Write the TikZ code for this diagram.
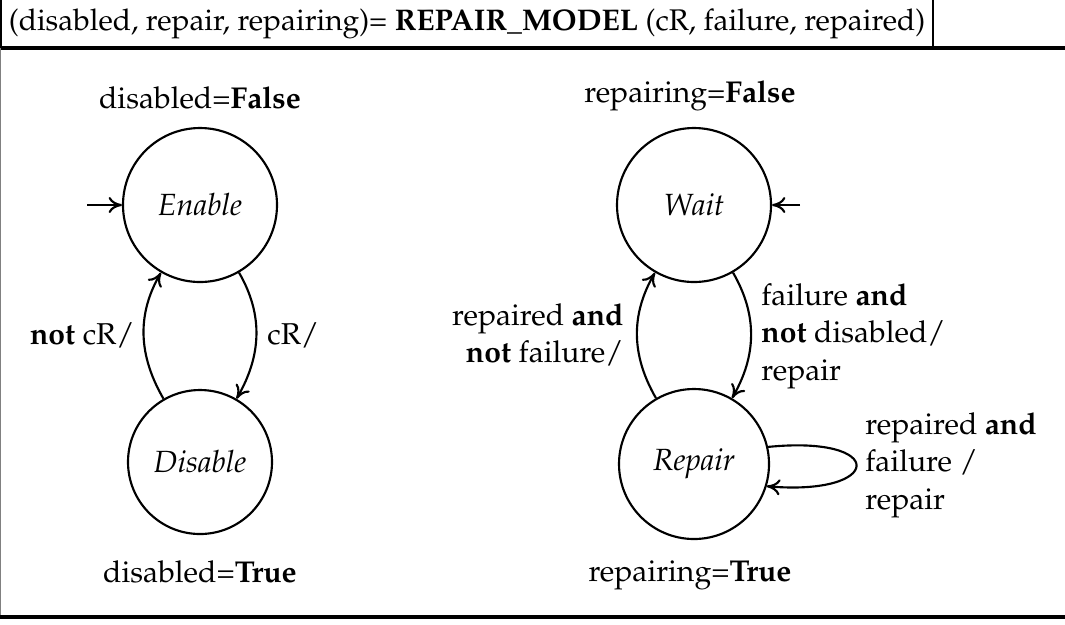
\documentclass[tikz,border=0pt]{standalone}
\usepackage[T1]{fontenc}
\renewcommand{\rmdefault}{ppl}
\usepackage{tikz}
\usetikzlibrary{arrows.meta, positioning}

\begin{document}
\begin{tikzpicture}[x=0.375pt, y=-0.375pt, >={To[length=5pt, width=6pt]},
  every node/.style={font=\fontsize{11.3}{14}\selectfont},
  state/.style={draw, circle, thick, inner sep=0pt, font=\fontsize{11.5}{14}\selectfont\itshape},
  guard/.style={align=left},
  trans/.style={->, thick}]
  \useasboundingbox (0,0) rectangle (1065,624);
  % header and frame
  \node[draw, thick, anchor=north west, minimum width=349.5pt, minimum height=19pt, inner sep=0pt] (title) at (0,-3)
    {\fontsize{11.2}{14}\selectfont(disabled, repair, repairing)= \textbf{REPAIR\_MODEL} (cR, failure, repaired)};
  \draw[very thick] (0,48) -- (1065,48);
  \draw[gray] (0.8,48) -- (0.8,617);
  \draw[very thick] (0,617) -- (1065,617);
  % left machine
  \node[state, minimum size=57.75pt] (enable) at (200,205) {Enable};
  \node[state, minimum size=54pt] (disable) at (200,462) {Disable};
  \node (enableout) at (200,98) {disabled=\textbf{False}};
  \node (disableout) at (200,572) {disabled=\textbf{True}};
  \coordinate (enablein) at (87,205);
  \draw[trans] (enablein) -- (enable);
  \draw[trans] (enable.-60) to[out=-60, in=60] (disable.60);
  \draw[trans] (disable.120) to[out=120, in=-120] (enable.-120);
  \node[anchor=east] (notcr) at (144,335) {\textbf{not} cR/};
  \node[anchor=west] (cr) at (258,335) {cR/};
  % right machine
  \node[state, minimum size=57.75pt] (wait) at (694,205) {Wait};
  \node[state, minimum size=56.25pt] (repair) at (694,464) {Repair};
  \node (waitout) at (690,96) {repairing=\textbf{False}};
  \node (repairout) at (690,575) {repairing=\textbf{True}};
  \coordinate (waitin) at (800,205);
  \draw[trans] (waitin) -- (wait);
  \draw[trans] (wait.-60) to[out=-60, in=60] (repair.60);
  \draw[trans] (repair.120) to[out=120, in=-120] (wait.-120);
  \draw[trans] (repair.13) .. controls +(120,-12) and +(117,10) .. (repair.-17);
  \node[anchor=east, align=right] (backlbl) at (633,335) {repaired \textbf{and}\\\textbf{not} failure/};
  \node[anchor=west, guard] (faillbl) at (752,336) {failure \textbf{and}\\\textbf{not} disabled/\\repair};
  \node[anchor=west, guard] (looplbl) at (856,465) {repaired \textbf{and}\\failure /\\repair};
\end{tikzpicture}
\end{document}
